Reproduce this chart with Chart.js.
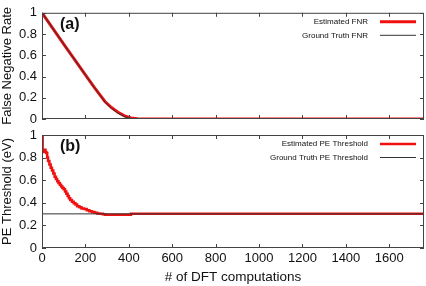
<!DOCTYPE html>
<html>
<head>
<meta charset="utf-8">
<script src="https://cdn.jsdelivr.net/npm/chart.js@4.4.2/dist/chart.umd.min.js"></script>
<style>
  html, body { margin: 0; padding: 0; background: #fff; }
  #wrap { position: relative; width: 426px; height: 286px; }
  canvas { position: absolute; left: 0; }
</style>
</head>
<body>
<div id="wrap">
  <canvas id="top" width="426" height="132" style="top:0"></canvas>
  <canvas id="bottom" width="426" height="164" style="top:122px"></canvas>
</div>
<script>
// values: [# of DFT computations, value]
const fnrEstimated = [
  [0, 1], [100, 0.705], [200, 0.415], [240, 0.3], [290, 0.165], [320, 0.108], [350, 0.064],
  [380, 0.03], [410, 0.01], [440, 0.002], [460, 0], [1760, 0]
];
const fnrTruth = [
  [0, 1], [100, 0.705], [200, 0.415], [240, 0.3], [290, 0.16], [320, 0.1], [350, 0.055],
  [380, 0.022], [400, 0.008], [420, 0], [1760, 0]
];
const peEstimated = [
  [0, 1], [3, 0.86], [8, 0.85], [12, 0.87], [16, 0.85], [20, 0.84], [24, 0.8], [28, 0.77],
  [34, 0.74], [40, 0.71], [46, 0.685], [52, 0.66], [58, 0.63], [64, 0.61], [70, 0.59], [76, 0.575],
  [82, 0.56], [88, 0.545], [94, 0.53], [100, 0.52], [106, 0.5], [112, 0.48], [118, 0.46], [124, 0.44],
  [130, 0.425], [138, 0.41], [146, 0.395], [154, 0.385], [162, 0.37], [172, 0.36], [182, 0.35],
  [194, 0.345], [206, 0.335], [218, 0.325], [230, 0.318], [242, 0.312], [254, 0.306], [266, 0.302],
  [280, 0.298], [290, 0.294], [400, 0.294], [410, 0.302], [1760, 0.302]
];
const peTruth = [[0, 0.302], [1760, 0.302]];
const xTicks = [0, 200, 400, 600, 800, 1000, 1200, 1400, 1600];
const yTicks = [0, 0.2, 0.4, 0.6, 0.8, 1];

const RED = '#f01010';
const BLACK = '#333';
const FONT = 'Liberation Sans, Arial, sans-serif';

const toPoints = (arr) => arr.map(([x, y]) => ({ x, y }));

// gnuplot-like frame, inward ticks, inset legend and panel tag
const framePlugin = {
  id: 'frame',
  afterDraw(chart, args, opts) {
    const { ctx, chartArea: a, scales } = chart;
    ctx.save();
    ctx.strokeStyle = '#444';
    ctx.lineWidth = 1;
    ctx.strokeRect(a.left + 0.5, a.top + 0.5, a.right - a.left - 1, a.bottom - a.top - 1);
    ctx.beginPath();
    xTicks.forEach((v) => {
      const x = Math.round(scales.x.getPixelForValue(v)) + 0.5;
      ctx.moveTo(x, a.bottom); ctx.lineTo(x, a.bottom - 4);
      ctx.moveTo(x, a.top); ctx.lineTo(x, a.top + 4);
    });
    yTicks.forEach((v) => {
      const y = Math.round(scales.y.getPixelForValue(v)) + 0.5;
      ctx.moveTo(a.left, y); ctx.lineTo(a.left + 4, y);
      ctx.moveTo(a.right, y); ctx.lineTo(a.right - 4, y);
    });
    ctx.stroke();

    ctx.fillStyle = '#111';
    ctx.font = 'bold 16px ' + FONT;
    ctx.textBaseline = 'middle';
    ctx.textAlign = 'left';
    ctx.fillText(opts.tag, a.left + 18, a.top + 12);

    ctx.font = '8px ' + FONT;
    ctx.textAlign = 'right';
    chart.data.datasets.forEach((ds, i) => {
      const y = a.top + 9 + i * 13.5;
      ctx.fillStyle = '#111';
      ctx.fillText(ds.label, a.right - 56, y);
      ctx.strokeStyle = ds.borderColor;
      ctx.lineWidth = ds.borderWidth;
      ctx.beginPath();
      ctx.moveTo(a.right - 44, y);
      ctx.lineTo(a.right - 8, y);
      ctx.stroke();
    });
    ctx.restore();
  }
};

const makeChart = (id, tag, yTitle, datasets, bottomPanel, padding) => new Chart(document.getElementById(id), {
  type: 'line',
  data: { datasets },
  options: {
    responsive: false,
    animation: false,
    layout: { padding },
    elements: { point: { radius: 0 } },
    scales: {
      x: {
        type: 'linear',
        min: 0,
        max: 1760,
        afterBuildTicks: (s) => { s.ticks = xTicks.map((v) => ({ value: v })); },
        afterFit: (s) => { s.height = bottomPanel ? 38 : 0; },
        grid: { display: false, drawTicks: false },
        border: { display: false },
        ticks: {
          display: bottomPanel,
          padding: 3,
          color: '#111',
          font: { family: FONT, size: 13 },
          callback: (v) => String(v)
        },
        title: {
          display: bottomPanel,
          text: '# of DFT computations',
          color: '#111',
          padding: { top: 1, bottom: 1 },
          font: { family: FONT, size: 13.5 }
        }
      },
      y: {
        min: 0,
        max: 1,
        afterBuildTicks: (s) => { s.ticks = yTicks.map((v) => ({ value: v })); },
        afterFit: (s) => { s.width = 42; },
        grid: { display: false, drawTicks: false },
        border: { display: false },
        ticks: {
          padding: 5,
          color: '#111',
          font: { family: FONT, size: 13 },
          callback: (v) => String(v)
        },
        title: {
          display: true,
          text: yTitle,
          color: '#111',
          padding: { top: 0, bottom: 0 },
          font: { family: FONT, size: 13 }
        }
      }
    },
    plugins: {
      legend: { display: false },
      tooltip: { enabled: false },
      frame: { tag }
    }
  },
  plugins: [framePlugin]
});

// the thin ground-truth line is drawn over the thick red one
makeChart('top', '(a)', 'False Negative Rate', [
  { label: 'Estimated FNR', data: toPoints(fnrEstimated), borderColor: RED, borderWidth: 3, order: 1 },
  { label: 'Ground Truth FNR', data: toPoints(fnrTruth), borderColor: BLACK, borderWidth: 1, order: 0 }
], false, { top: 6, right: 2, bottom: 13, left: 0 });

makeChart('bottom', '(b)', 'PE Threshold (eV)', [
  { label: 'Estimated PE Threshold', data: toPoints(peEstimated), borderColor: RED, borderWidth: 2.5, stepped: true, order: 1 },
  { label: 'Ground Truth PE Threshold', data: toPoints(peTruth), borderColor: BLACK, borderWidth: 1, order: 0 }
], true, { top: 13, right: 2, bottom: 0, left: 0 });
</script>
</body>
</html>
